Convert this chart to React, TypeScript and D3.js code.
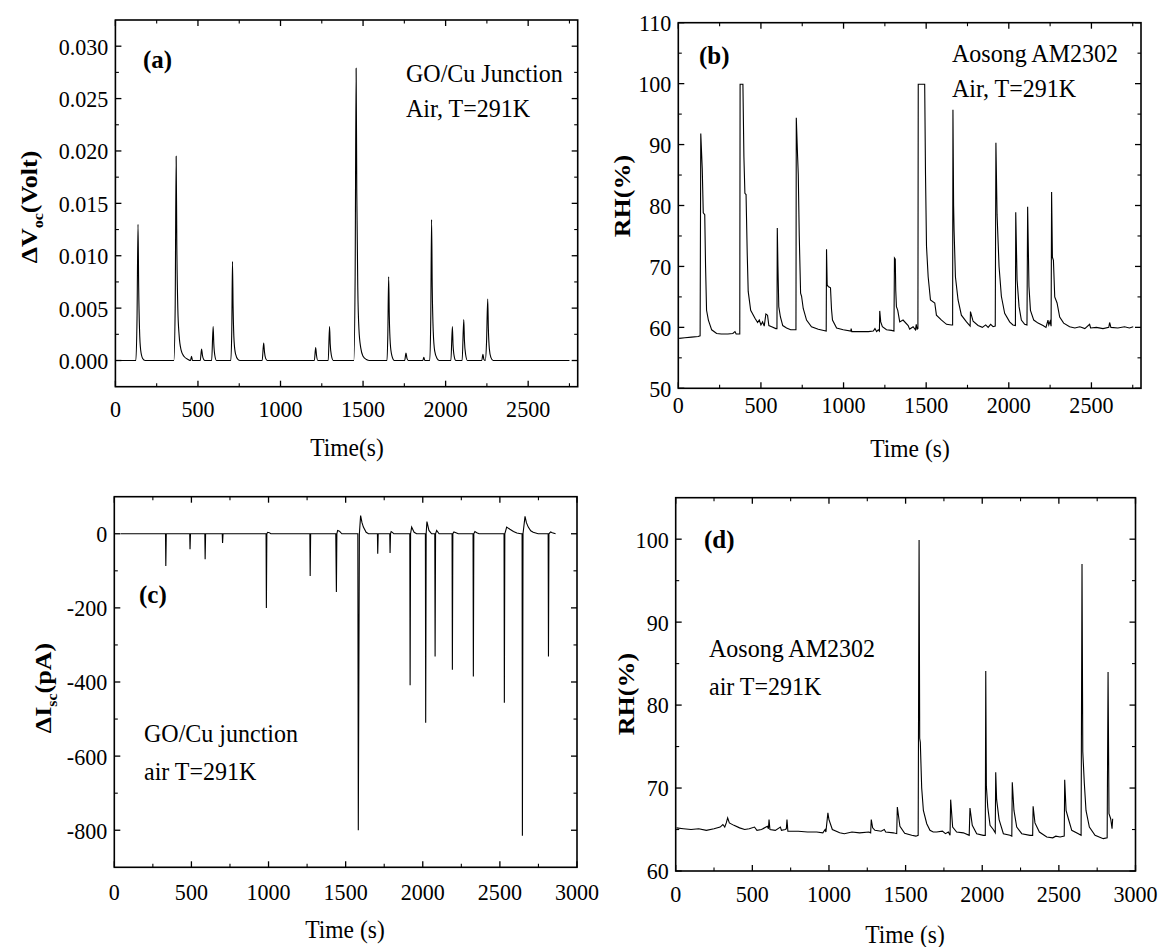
import React from "react";
import * as d3 from "d3";

// (a) open-circuit voltage change, GO/Cu junction  [time s, volt]
const seriesA: [number, number][] = [
  [30, 0], [124, 0], [131, 0.004], [137, 0.013], [141, 0.007], [146, 0.003], [153, 0.001], [165, 0.0002], [180, 0],
  [354, 0], [362, 0.005], [368, 0.0195], [372, 0.011], [378, 0.005], [386, 0.0024], [398, 0.001], [415, 0.0004], [440, 0.0001], [455, 0],
  [461, 0.0004], [467, 0],
  [514, 0], [522, 0.0011], [527, 0.0005], [535, 0.0001], [542, 0],
  [583, 0], [592, 0.00325], [596, 0.0016], [602, 0.0005], [612, 0],
  [699, 0], [705, 0.003], [709, 0.00945], [713, 0.005], [719, 0.0018], [728, 0.0006], [742, 0.0001], [755, 0],
  [889, 0], [898, 0.00166], [903, 0.0008], [910, 0.0002], [920, 0],
  [1205, 0], [1213, 0.00124], [1218, 0.0005], [1226, 0],
  [1289, 0], [1297, 0.00325], [1301, 0.0016], [1308, 0.0005], [1320, 0],
  [1444, 0], [1452, 0.008], [1458, 0.0279], [1462, 0.016], [1468, 0.007], [1475, 0.003], [1486, 0.0012], [1500, 0.0004], [1520, 0.0001], [1540, 0],
  [1645, 0], [1650, 0.0025], [1655, 0.008], [1659, 0.0042], [1665, 0.0016], [1674, 0.0005], [1690, 0],
  [1752, 0], [1760, 0.0007], [1766, 0.0002], [1774, 0],
  [1862, 0], [1868, 0.0003], [1874, 0],
  [1904, 0], [1910, 0.004], [1915, 0.01345], [1919, 0.007], [1925, 0.0028], [1934, 0.0009], [1948, 0.0002], [1962, 0],
  [2032, 0], [2041, 0.00325], [2045, 0.0015], [2052, 0.0004], [2062, 0],
  [2100, 0], [2110, 0.0039], [2114, 0.0019], [2121, 0.0006], [2132, 0],
  [2219, 0], [2226, 0.0006], [2232, 0.0001], [2240, 0], [2248, 0.0018], [2255, 0.00587], [2259, 0.003], [2265, 0.0011], [2274, 0.0003], [2288, 0],
  [2750, 0],
];

// (b) commercial RH sensor, same run  [time s, RH %]
const seriesB: [number, number][] = [
  [5, 58.2], [40, 58.3], [80, 58.4], [120, 58.5], [132, 58.6],
  [136, 91.8], [145, 86], [151, 78.8], [160, 78.5], [165, 70], [171, 62.8], [182, 61.2], [202, 59.6], [232, 59.0], [260, 58.9], [300, 58.9], [330, 59.0], [343, 59.3], [350, 58.9], [372, 58.9],
  [374, 99.9], [391, 99.9], [397, 88], [403, 82], [410, 81.8], [417, 72.2], [423, 65.9], [438, 62.8], [464, 61.5], [480, 60.8], [490, 61.2], [500, 60.4], [510, 60.9], [520, 60.2], [530, 62.2], [540, 62.0], [548, 60.3], [565, 60.1], [590, 59.8], [597, 59.8],
  [599, 76.3], [603, 70], [608, 63.4], [618, 61.7], [632, 60.3], [655, 59.9], [680, 59.6], [712, 59.6],
  [714, 94.4], [722, 88], [726, 85.1], [732, 75], [740, 65.6], [746, 65.1], [756, 63.1], [776, 61.2], [806, 60.1], [847, 59.7], [880, 59.5], [895, 59.4],
  [897, 72.8], [901, 67], [907, 66.7], [921, 66.5], [927, 63], [933, 61.2], [958, 59.9], [998, 59.6], [1044, 59.4], [1046, 59.8], [1050, 59.3], [1100, 59.3], [1150, 59.3], [1180, 59.4], [1190, 59.8], [1200, 59.3], [1210, 59.6], [1217, 59.4],
  [1219, 62.7], [1225, 60.9], [1235, 60.1], [1260, 59.6], [1290, 59.5], [1305, 59.4],
  [1308, 71.4], [1313, 71.2], [1316, 66], [1320, 63.4], [1328, 62.8], [1340, 60.9], [1360, 61.2], [1391, 60.3], [1400, 59.7], [1410, 59.9], [1421, 60.1], [1435, 59.6], [1440, 60.5], [1445, 59.7], [1450, 59.8],
  [1452, 99.9], [1491, 99.9], [1496, 85], [1502, 73.3], [1512, 68.3], [1526, 64.5], [1552, 64.0], [1562, 62.0], [1593, 61.2], [1623, 60.5], [1653, 60.4], [1660, 60.4],
  [1662, 95.7], [1666, 80], [1669, 75.8], [1677, 68.3], [1693, 64.5], [1713, 62.0], [1744, 60.9], [1766, 60.2], [1768, 62.6], [1784, 61.0], [1814, 60.3], [1840, 60.0], [1860, 60.4], [1875, 60.0], [1890, 60.5], [1905, 60.1], [1918, 60.2],
  [1922, 90.3], [1929, 78.5], [1941, 70], [1955, 65.1], [1975, 62.3], [2005, 60.9], [2025, 60.4], [2040, 60.3],
  [2042, 78.9], [2050, 67.8], [2062, 63.4], [2076, 61.2], [2096, 60.5], [2110, 60.4],
  [2114, 79.8], [2122, 66.7], [2131, 62.8], [2151, 61.2], [2177, 60.7], [2207, 60.3], [2225, 60.0], [2237, 61.2], [2242, 60.4], [2250, 61], [2256, 60.2],
  [2259, 82.2], [2264, 71.5], [2270, 71], [2278, 65], [2292, 64], [2308, 61.7], [2332, 60.7], [2368, 60.1], [2400, 59.9], [2430, 60.1], [2460, 59.8], [2489, 60.5], [2495, 59.9], [2530, 60.0], [2570, 59.8], [2605, 60.0], [2610, 60.8], [2618, 60.0], [2660, 59.9], [2700, 60.1], [2730, 59.9], [2753, 60.1],
];

// (c) short-circuit current change, GO/Cu junction  [time s, pA]
const seriesC: [number, number][] = [
  [41, 0], [332, 0], [334, -87], [337, 0], [489, 0], [491, -42], [494, 0], [587, 0], [589, -69], [592, 0], [700, 0], [702, -25], [705, 0],
  [984, 0], [986, -200], [989, 0], [995, 4], [1005, 3], [1015, 0], [1268, 0], [1270, -114], [1273, 0],
  [1436, 0], [1440, -157], [1443, 0], [1448, 9], [1460, 7], [1475, 0],
  [1579, 0], [1582, -800], [1589, 0], [1597, 49], [1606, 30], [1615, 18], [1633, 4], [1648, 0],
  [1706, 0], [1708, -54], [1711, 0], [1786, 0], [1788, -52], [1791, 0], [1795, 6], [1805, 3], [1812, 0],
  [1916, 0], [1918, -409], [1921, 0], [1928, 18], [1944, 4], [1960, 0],
  [2017, 0], [2019, -510], [2022, 0], [2027, 33], [2040, 9], [2057, 0],
  [2078, 0], [2080, -331], [2083, 0], [2090, 9], [2106, 0],
  [2190, 0], [2192, -367], [2195, 0], [2202, 5], [2215, 3], [2230, 0],
  [2326, 0], [2328, -385], [2331, 0], [2338, 6], [2350, 3], [2365, 0],
  [2527, 0], [2529, -456], [2532, 0], [2544, 18], [2565, 12], [2588, 6], [2610, 2], [2635, 0],
  [2644, 0], [2646, -815], [2650, 0], [2663, 47], [2672, 30], [2684, 18], [2700, 8], [2716, 4], [2748, 0],
  [2813, 0], [2815, -331], [2818, 0], [2829, 5], [2840, 3], [2861, 0],
];

// (d) commercial RH sensor, second run  [time s, RH %]
const seriesD: [number, number][] = [
  [5, 65.2], [50, 65.1], [100, 65.0], [150, 65.1], [200, 64.9], [250, 65.1], [290, 65.3], [308, 65.6], [320, 65.3], [330, 65.8], [339, 66.4], [350, 65.8], [380, 65.5], [417, 65.2], [450, 65.0], [480, 65.1], [514, 65.3], [530, 64.9], [560, 65.0], [598, 65.4], [605, 65.1], [609, 66.2], [615, 65.0], [650, 64.9], [683, 65.3], [690, 64.9], [715, 65.0], [722, 65.1], [726, 66.2], [732, 64.8],
  [800, 64.8], [860, 64.7], [920, 64.7], [960, 64.6], [975, 65.0], [980, 64.7], [993, 67.0], [1000, 66.2], [1022, 65.0], [1070, 64.6], [1100, 64.5], [1150, 64.7], [1200, 64.6], [1260, 64.7], [1272, 64.6], [1276, 66.2], [1285, 65.2], [1300, 64.9], [1340, 64.8], [1361, 65.0], [1370, 64.7], [1420, 64.6], [1442, 64.5], [1446, 67.7], [1463, 65.4], [1494, 64.55], [1540, 64.3], [1567, 64.2], [1582, 64.3],
  [1588, 99.9], [1592, 76.0], [1596, 75.5], [1605, 70], [1616, 67.3], [1638, 65.7], [1659, 64.9], [1680, 64.7], [1703, 64.7], [1740, 64.8], [1760, 64.5], [1779, 64.7], [1790, 64.3],
  [1794, 68.6], [1807, 65.3], [1833, 64.7], [1877, 64.6], [1915, 64.3],
  [1920, 67.6], [1935, 65.5], [1964, 64.5], [2007, 64.3], [2020, 64.3],
  [2023, 84.1], [2027, 70.2], [2036, 67.7], [2051, 65.5], [2072, 65.0], [2085, 64.6],
  [2088, 71.9], [2094, 68.6], [2110, 66.2], [2138, 64.5], [2181, 64.3], [2193, 64.2],
  [2196, 70.7], [2207, 67.3], [2225, 65.3], [2258, 64.5], [2312, 64.3], [2329, 64.3],
  [2332, 67.8], [2344, 65.8], [2373, 64.7], [2421, 64.1], [2460, 64.0], [2480, 64.2], [2508, 64.1], [2535, 64.2],
  [2538, 71.0], [2547, 67.3], [2562, 66.3], [2584, 64.9], [2627, 64.5], [2645, 64.3],
  [2651, 97.0], [2656, 74.4], [2666, 70.6], [2677, 67.3], [2699, 65.3], [2736, 64.3], [2790, 63.9], [2815, 64.0],
  [2821, 84.0], [2827, 66.9], [2838, 66.3], [2847, 65.1], [2851, 66.3],
];

const xTicks2800 = [0, 500, 1000, 1500, 2000, 2500];
const xTicks3000 = [0, 500, 1000, 1500, 2000, 2500, 3000];
const yTicksA = [0, 0.005, 0.01, 0.015, 0.02, 0.025, 0.03];
const yTicksB = [50, 60, 70, 80, 90, 100, 110];
const yTicksC = [-800, -600, -400, -200, 0];
const yTicksD = [60, 70, 80, 90, 100];

const FONT = "'Liberation Serif', 'Times New Roman', serif";
// the source figure is slightly narrower than tall, so text is squeezed a bit horizontally
const SQX = 0.92;

type Box = { x0: number; x1: number; y0: number; y1: number };
type Note = { text: string; x: number; y: number; bold?: boolean };

type PanelProps = {
  box: Box;
  xDomain: [number, number];
  yDomain: [number, number];
  xTicks: number[];
  yTicks: number[];
  xMinorStep: number;
  yMinorStep: number;
  yFormat: (v: number) => string;
  data: [number, number][];
  smooth?: boolean;
  xLabelDy: number;
  xTitle: string;
  xTitlePos: [number, number];
  yTitle: React.ReactNode;
  yTitlePos: [number, number];
  notes: Note[];
};

function minorTicks(domain: [number, number], step: number, majors: number[]) {
  const n = Math.floor((domain[1] - domain[0]) / step) + 2;
  const start = Math.ceil(domain[0] / step) * step;
  return d3
    .range(n)
    .map(i => start + i * step)
    .filter(v => v > domain[0] + step * 1e-3 && v < domain[1] - step * 1e-3)
    .filter(v => !majors.some(m => Math.abs(m - v) < step * 1e-3));
}

function Txt(props: {
  x: number;
  y: number;
  size: number;
  anchor?: "start" | "middle" | "end";
  bold?: boolean;
  dy?: string;
  sx?: number;
  children: React.ReactNode;
}) {
  const sx = props.sx ?? SQX;
  return (
    <text
      transform={`translate(${props.x},${props.y}) scale(${sx},1)`}
      textAnchor={props.anchor ?? "start"}
      fontSize={props.size}
      fontWeight={props.bold ? "bold" : "normal"}
      dy={props.dy}
    >
      {props.children}
    </text>
  );
}

function Panel(p: PanelProps) {
  const { box } = p;
  const x = d3.scaleLinear().domain(p.xDomain).range([box.x0, box.x1]);
  const y = d3.scaleLinear().domain(p.yDomain).range([box.y1, box.y0]);
  const line = d3
    .line<[number, number]>()
    .x(d => x(d[0]))
    .y(d => y(d[1]))
    .curve(p.smooth ? d3.curveMonotoneX : d3.curveLinear);

  const xMinor = minorTicks(p.xDomain, p.xMinorStep, p.xTicks);
  const yMinor = minorTicks(p.yDomain, p.yMinorStep, p.yTicks);
  const major = 6;
  const minor = 3.5;

  return (
    <g>
      <path d={line(p.data) || ""} fill="none" stroke="#000" strokeWidth={1.1} />
      <rect x={box.x0} y={box.y0} width={box.x1 - box.x0} height={box.y1 - box.y0} fill="none" stroke="#000" strokeWidth={1.6} />
      {p.xTicks.map(t => (
        <g key={"xt" + t}>
          <line x1={x(t)} x2={x(t)} y1={box.y1} y2={box.y1 - major} stroke="#000" strokeWidth={1.3} />
          <line x1={x(t)} x2={x(t)} y1={box.y0} y2={box.y0 + major} stroke="#000" strokeWidth={1.3} />
          <Txt x={x(t)} y={box.y1 + p.xLabelDy} size={24} anchor="middle">{t}</Txt>
        </g>
      ))}
      {xMinor.map(t => (
        <g key={"xm" + t}>
          <line x1={x(t)} x2={x(t)} y1={box.y1} y2={box.y1 - minor} stroke="#000" strokeWidth={1.1} />
          <line x1={x(t)} x2={x(t)} y1={box.y0} y2={box.y0 + minor} stroke="#000" strokeWidth={1.1} />
        </g>
      ))}
      {p.yTicks.map(t => (
        <g key={"yt" + t}>
          <line x1={box.x0} x2={box.x0 + major} y1={y(t)} y2={y(t)} stroke="#000" strokeWidth={1.3} />
          <line x1={box.x1} x2={box.x1 - major} y1={y(t)} y2={y(t)} stroke="#000" strokeWidth={1.3} />
          <Txt x={box.x0 - 7} y={y(t)} size={24} anchor="end" dy="0.35em">{p.yFormat(t)}</Txt>
        </g>
      ))}
      {yMinor.map(t => (
        <g key={"ym" + t}>
          <line x1={box.x0} x2={box.x0 + minor} y1={y(t)} y2={y(t)} stroke="#000" strokeWidth={1.1} />
          <line x1={box.x1} x2={box.x1 - minor} y1={y(t)} y2={y(t)} stroke="#000" strokeWidth={1.1} />
        </g>
      ))}
      <Txt x={p.xTitlePos[0]} y={p.xTitlePos[1]} size={25} anchor="middle" sx={0.94}>{p.xTitle}</Txt>
      <text
        transform={`translate(${p.yTitlePos[0] + 9},${p.yTitlePos[1]}) rotate(-90) scale(1,${SQX})`}
        textAnchor="middle"
        fontSize={26}
        fontWeight="bold"
      >
        {p.yTitle}
      </text>
      {p.notes.map(n => (
        <Txt key={n.text} x={n.x} y={n.y} size={n.bold ? 26 : 25} bold={n.bold} sx={0.96}>{n.text}</Txt>
      ))}
    </g>
  );
}

export default function App() {
  return (
    <svg
      width={1161}
      height={947}
      style={{ position: "absolute", left: 0, top: 0, background: "#fff" }}
      fontFamily={FONT}
    >
      <rect width={1161} height={947} fill="#fff" />
      <Panel
        box={{ x0: 115.4, x1: 577.7, y0: 20, y1: 386.7 }}
        xDomain={[0, 2800]}
        yDomain={[-0.0025, 0.0325]}
        xTicks={xTicks2800}
        yTicks={yTicksA}
        xMinorStep={250}
        yMinorStep={0.0025}
        yFormat={d3.format(".3f")}
        data={seriesA}
        smooth
        xLabelDy={30}
        xTitle="Time(s)"
        xTitlePos={[347, 456]}
        yTitle={<>ΔV<tspan fontSize={16} dy={6}>oc</tspan><tspan dy={-6}>(Volt)</tspan></>}
        yTitlePos={[28, 207]}
        notes={[
          { text: "(a)", x: 143, y: 68, bold: true },
          { text: "GO/Cu Junction", x: 406, y: 82 },
          { text: "Air, T=291K", x: 406, y: 117 },
        ]}
      />
      <Panel
        box={{ x0: 678.3, x1: 1141, y0: 22.7, y1: 388.3 }}
        xDomain={[0, 2800]}
        yDomain={[50, 110]}
        xTicks={xTicks2800}
        yTicks={yTicksB}
        xMinorStep={250}
        yMinorStep={5}
        yFormat={v => String(v)}
        data={seriesB}
        xLabelDy={25}
        xTitle="Time (s)"
        xTitlePos={[910, 457]}
        yTitle="RH(%)"
        yTitlePos={[621, 196]}
        notes={[
          { text: "(b)", x: 699, y: 64, bold: true },
          { text: "Aosong AM2302", x: 952, y: 62 },
          { text: "Air, T=291K", x: 952, y: 97 },
        ]}
      />
      <Panel
        box={{ x0: 114.3, x1: 577, y0: 496.7, y1: 867.3 }}
        xDomain={[0, 3000]}
        yDomain={[-900, 100]}
        xTicks={xTicks3000}
        yTicks={yTicksC}
        xMinorStep={250}
        yMinorStep={100}
        yFormat={v => String(v)}
        data={seriesC}
        xLabelDy={33}
        xTitle="Time (s)"
        xTitlePos={[345, 938]}
        yTitle={<>ΔI<tspan fontSize={16} dy={6}>sc</tspan><tspan dy={-6}>(pA)</tspan></>}
        yTitlePos={[42, 688]}
        notes={[
          { text: "(c)", x: 139, y: 603, bold: true },
          { text: "GO/Cu junction", x: 144, y: 742 },
          { text: "air T=291K", x: 144, y: 780 },
        ]}
      />
      <Panel
        box={{ x0: 675.7, x1: 1135.5, y0: 497.7, y1: 871 }}
        xDomain={[0, 3000]}
        yDomain={[60, 105]}
        xTicks={xTicks3000}
        yTicks={yTicksD}
        xMinorStep={250}
        yMinorStep={5}
        yFormat={v => String(v)}
        data={seriesD}
        xLabelDy={31}
        xTitle="Time (s)"
        xTitlePos={[905, 943]}
        yTitle="RH(%)"
        yTitlePos={[625, 694]}
        notes={[
          { text: "(d)", x: 704, y: 548, bold: true },
          { text: "Aosong AM2302", x: 709, y: 657 },
          { text: "air T=291K", x: 709, y: 695 },
        ]}
      />
    </svg>
  );
}
